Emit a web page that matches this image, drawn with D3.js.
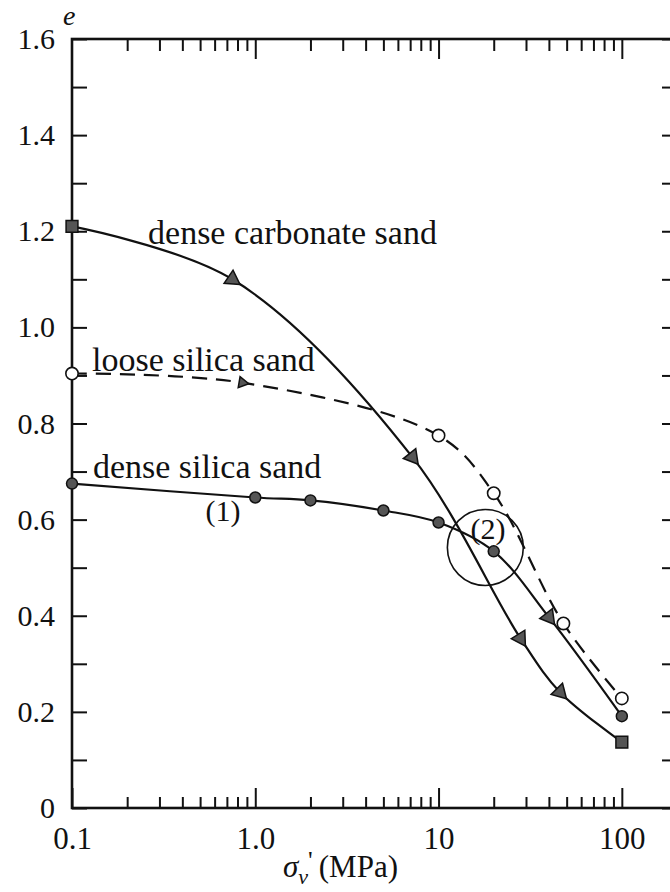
<!DOCTYPE html>
<html><head><meta charset="utf-8">
<script src="https://cdn.jsdelivr.net/npm/d3@7"></script>
<style>html,body{margin:0;padding:0;background:#fff;}svg{display:block;}</style>
</head><body>
<svg id="chart" width="670" height="892"></svg>
<script>
// ---- data ----
const carbonateX = [0.1, 0.75, 7.2, 28, 46, 100];
const carbonateE = [1.21, 1.10, 0.73, 0.353, 0.241, 0.137];
const carbonateM = ["square", "triangle", "triangle", "triangle", "triangle", "square"];

const looseX = [0.1, 0.85, 10, 20, 48, 100];
const looseE = [0.904, 0.885, 0.775, 0.655, 0.384, 0.228];
const looseM = ["open", "smalltri", "open", "open", "open", "open"];

const denseX = [0.1, 1, 2, 5, 10, 20, 40, 100];
const denseE = [0.675, 0.646, 0.64, 0.619, 0.594, 0.534, 0.397, 0.191];
const denseM = ["dot", "dot", "dot", "dot", "dot", "dot", "triangle", "dot"];

const xMajorTicks = [0.1, 1, 10, 100];
const xMajorLabels = ["0.1", "1.0", "10", "100"];
const yTicks = [0,0.1,0.2,0.3,0.4,0.5,0.6,0.7,0.8,0.9,1.0,1.1,1.2,1.3,1.4,1.5,1.6];
const yLabels = {0:"0",0.2:"0.2",0.4:"0.4",0.6:"0.6",0.8:"0.8",1:"1.0",1.2:"1.2",1.4:"1.4",1.6:"1.6"};

// ---- layout ----
const svg = d3.select("#chart");
const pL = 72, pR = 677, pT = 39, pB = 808;
const x = d3.scaleLog().domain([0.1, 200]).range([pL, pR]);
const y = d3.scaleLinear().domain([0, 1.6]).range([pB, pT]);
const serif = "'Liberation Serif','Times New Roman',serif";

const xMinor = [];
[0.1, 1, 10].forEach(d => { for (let k = 2; k <= 9; k++) xMinor.push(+(d * k).toPrecision(3)); });

function styleAxis(g) {
  g.select(".domain").remove();
  g.selectAll("line").attr("stroke", "#111").attr("stroke-width", 2);
  g.selectAll("text").attr("font-family", serif).attr("fill", "#111");
}

// bottom axis
svg.append("g").attr("transform", `translate(0,${pB})`)
  .call(d3.axisBottom(x).tickValues(xMinor).tickSizeInner(-11).tickSizeOuter(0).tickFormat(""))
  .call(styleAxis);
svg.append("g").attr("transform", `translate(0,${pB})`)
  .call(d3.axisBottom(x).tickValues(xMajorTicks).tickSizeInner(-20).tickSizeOuter(0).tickPadding(19)
    .tickFormat((d, i) => xMajorLabels[i]))
  .call(styleAxis)
  .call(g => g.selectAll("text").attr("font-size", 31));
// top axis
svg.append("g").attr("transform", `translate(0,${pT})`)
  .call(d3.axisTop(x).tickValues(xMinor).tickSizeInner(-12).tickSizeOuter(0).tickFormat(""))
  .call(styleAxis);
svg.append("g").attr("transform", `translate(0,${pT})`)
  .call(d3.axisTop(x).tickValues(xMajorTicks.slice(1)).tickSizeInner(-20).tickSizeOuter(0).tickFormat(""))
  .call(styleAxis);
// left axis
svg.append("g").attr("transform", `translate(${pL},0)`)
  .call(d3.axisLeft(y).tickValues(yTicks).tickSizeInner(-15).tickSizeOuter(0).tickPadding(17)
    .tickFormat(d => yLabels[+d.toFixed(1)] || ""))
  .call(styleAxis)
  .call(g => g.selectAll("text").attr("font-size", 30));
// right axis
svg.append("g").attr("transform", `translate(${pR},0)`)
  .call(d3.axisRight(y).tickValues(yTicks).tickSizeInner(-15).tickSizeOuter(0).tickFormat(""))
  .call(styleAxis);

// frame
svg.append("rect").attr("x", pL).attr("y", pT).attr("width", pR - pL).attr("height", pB - pT)
  .attr("fill", "none").attr("stroke", "#111").attr("stroke-width", 2.6);

// axis titles
svg.append("text").attr("x", 63).attr("y", 25).attr("font-family", serif).attr("font-style", "italic")
  .attr("font-size", 28).attr("fill", "#111").text("e");
const xt = svg.append("text").attr("x", 283).attr("y", 877).attr("font-family", serif)
  .attr("font-size", 31).attr("fill", "#111");
xt.append("tspan").attr("font-style", "italic").text("σ");
xt.append("tspan").attr("font-style", "italic").attr("font-size", 22).attr("dy", 7).text("ν");
xt.append("tspan").attr("dy", -15).attr("font-size", 26).text("'");
xt.append("tspan").attr("dy", 8).attr("dx", 6).text("(MPa)");

// ---- series ----
const series = [
  { xs: carbonateX, es: carbonateE, ms: carbonateM, dash: null },
  { xs: looseX, es: looseE, ms: looseM, dash: "15,9" },
  { xs: denseX, es: denseE, ms: denseM, dash: null }
];
const line = d3.line().x(d => x(d[0])).y(d => y(d[1])).curve(d3.curveCatmullRom.alpha(0.5));

series.forEach(s => {
  const pts = s.xs.map((v, i) => [v, s.es[i]]);
  svg.append("path").datum(pts).attr("d", line).attr("fill", "none")
    .attr("stroke", "#111").attr("stroke-width", 2.2)
    .attr("stroke-dasharray", s.dash);
});

function angleAt(pts, i) {
  const a = pts[Math.max(0, i - 1)], b = pts[Math.min(pts.length - 1, i + 1)];
  return Math.atan2(y(b[1]) - y(a[1]), x(b[0]) - x(a[0])) * 180 / Math.PI;
}

series.forEach(s => {
  const pts = s.xs.map((v, i) => [v, s.es[i]]);
  pts.forEach((p, i) => {
    const m = s.ms[i];
    const cx = x(p[0]), cy = y(p[1]);
    const g = svg.append("g").attr("transform", `translate(${cx},${cy})`);
    if (m === "square") {
      g.append("path").attr("d", d3.symbol(d3.symbolSquare, 140)())
        .attr("fill", "#555").attr("stroke", "#111").attr("stroke-width", 1.5);
    } else if (m === "dot") {
      g.append("path").attr("d", d3.symbol(d3.symbolCircle, 95)())
        .attr("fill", "#555").attr("stroke", "#111").attr("stroke-width", 1.5);
    } else if (m === "open") {
      g.append("path").attr("d", d3.symbol(d3.symbolCircle, 120)())
        .attr("fill", "#fff").attr("stroke", "#111").attr("stroke-width", 1.6);
    } else if (m === "triangle" || m === "smalltri") {
      const size = m === "triangle" ? 110 : 55;
      g.append("path").attr("d", d3.symbol(d3.symbolTriangle, size)())
        .attr("transform", `rotate(${angleAt(pts, i) + 90})`)
        .attr("fill", "#555").attr("stroke", "#111").attr("stroke-width", 1.5);
    }
  });
});

// ---- annotations ----
const txt = (t, xv, ev, anchor) => svg.append("text").attr("x", x(xv)).attr("y", y(ev))
  .attr("font-family", serif).attr("font-size", 34).attr("fill", "#111")
  .attr("text-anchor", anchor || "start").text(t);
txt("dense carbonate sand", 0.26, 1.174);
txt("loose silica sand", 0.1285, 0.91);
txt("dense silica sand", 0.13, 0.687);
txt("(1)", 0.667, 0.597, "middle").attr("font-size", 30);
txt("(2)", 18.6, 0.56, "middle").attr("font-size", 30);

svg.append("circle").attr("cx", x(18)).attr("cy", y(0.542))
  .attr("r", y(0) - y(0.079)).attr("fill", "none").attr("stroke", "#111").attr("stroke-width", 1.6);
</script>
</body></html>
